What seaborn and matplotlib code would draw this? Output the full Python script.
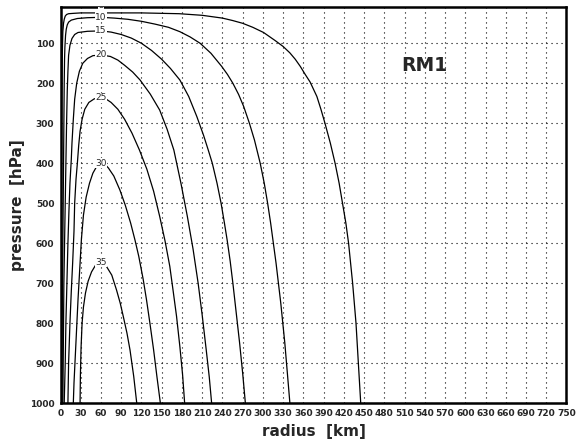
import pandas as pd
import seaborn as sns
import matplotlib.pyplot as plt

# contour levels and the (radius, pressure) points
levels = [5, 10, 15, 20, 25, 30, 35]

r5 = [0.8, 1.2, 1.6, 2, 2.5, 3, 3.5, 4.5, 5.5, 7, 9, 12, 20, 30, 60, 120, 176, 210, 240, 255, 270, 285, 301,
      318, 330, 340, 348, 355.5, 362, 370, 380, 386, 392, 400, 407, 413, 418, 423, 427, 433, 438, 441.5, 445]
p5 = [1000, 700, 400, 250, 150, 100, 70, 50, 40, 32, 28, 26, 25, 24, 24, 24, 26, 30, 37, 43, 50, 60, 73,
      93, 108, 124, 140, 158, 176, 197, 233, 265, 300, 350, 400, 450, 500, 550, 600, 700, 800, 900, 1000]

r10 = [2, 2.5, 3, 4, 4.5, 5, 5.5, 6, 6.5, 7.5, 8.5, 10, 12, 16, 25, 40, 60, 80, 100, 120, 140, 160, 177, 192,
       207, 223, 239, 247.5, 255.5, 264, 271.5, 280, 287.5, 296, 302, 307, 311.5, 315.5, 319.5, 323, 326.5, 329.5,
       332.5, 335, 337.5, 340]
p10 = [1000, 800, 700, 500, 400, 300, 200, 140, 110, 80, 65, 54, 47, 42, 38, 36, 35, 37, 40, 45, 52, 60, 71, 84,
       100, 125, 158, 178, 200, 228, 258, 300, 342, 400, 450, 500, 550, 600, 650, 700, 750, 800,
       850, 900, 950, 1000]

r15 = [3.5, 4.5, 5, 6, 7, 8, 9, 10, 11, 12, 14, 17, 21, 26, 40, 60, 75, 90, 105, 120, 135, 150, 163, 177, 190,
       202, 212, 219, 225, 232, 238, 243, 247, 251.5, 255.5, 260.5, 265.5, 270, 274]
p15 = [1000, 800, 700, 600, 500, 400, 300, 220, 170, 130, 105, 88, 78, 73, 70, 69, 72, 78, 87, 100, 118, 140, 163, 192, 233,
       283, 330, 367, 400, 450, 500, 550, 592, 645, 700, 775, 850, 925, 1000]

r20 = [5.5, 7, 8, 9.5, 11, 12.5, 14, 16, 17, 19, 21, 24, 28, 33, 40, 48, 60, 74, 85, 95, 107, 118, 133, 147,
       158, 168, 178.5, 188, 196.5, 204, 210, 216, 220.5, 224]
p20 = [1000, 900, 800, 700, 600, 520, 450, 390, 350, 290, 240, 200, 170, 150, 138, 131, 129, 133, 142, 155, 172, 192, 227, 267,
       315, 367, 450, 533, 615, 700, 780, 867, 935, 1000]

r25 = [11, 12, 14, 16, 18, 20, 21, 23, 25, 27, 29, 32, 36, 42, 50, 60, 68, 75, 85, 95, 106, 117, 128, 138,
       147, 155, 162, 167, 172, 177, 181, 184]
p25 = [1000, 900, 800, 720, 650, 570, 500, 440, 400, 355, 320, 290, 265, 248, 239, 236, 240, 248, 265, 290, 325, 367, 415, 470,
       533, 595, 658, 720, 783, 860, 930, 1000]

r30 = [19, 20, 22, 24, 26, 28.5, 31, 34, 38, 43, 48, 54, 60, 66, 71, 79, 88, 96, 104, 110.5, 116, 122.5, 127.5, 132.5,
       138, 143, 148]
p30 = [1000, 950, 880, 810, 740, 665, 590, 530, 485, 450, 425, 407, 400, 403, 412, 432, 467, 505, 550, 593, 633, 690, 742, 800,
       867, 935, 1000]

r35 = [29, 29.5, 30.5, 32, 34, 37, 41, 46, 52, 60, 68, 76, 83, 88.5, 93, 98.5, 103, 108.5, 113]
p35 = [1000, 930, 860, 800, 760, 725, 695, 672, 655, 648, 658, 680, 717, 750, 783, 825, 867, 933, 1000]

# where each contour label sits (radius, pressure)
label_r = [60, 60, 60, 60, 60, 60, 60]
label_p = [6, 35, 69, 129, 236, 400, 648]

x_ticks = list(range(0, 751, 30))
y_ticks = list(range(100, 1001, 100))

lines = [(r5, p5), (r10, p10), (r15, p15), (r20, p20), (r25, p25), (r30, p30), (r35, p35)]
frames = []
for lev, (rr, pp) in zip(levels, lines):
    frames.append(pd.DataFrame({'radius': rr, 'pressure': pp, 'level': lev}))
df = pd.concat(frames, ignore_index=True)

sns.set_style("white")
plt.rcParams['font.family'] = ['DejaVu Sans']

fig = plt.figure(figsize=(5.84, 4.46), dpi=100)
ax = fig.add_axes([0.1036, 0.0964, 0.8664, 0.8872])

sns.lineplot(data=df, x='radius', y='pressure', units='level', estimator=None,
             sort=False, color='black', linewidth=0.9, legend=False, ax=ax)
for ln in ax.lines:
    ln.set_solid_joinstyle('round')

# contour labels, white box breaks the line like the original
for lev, lr, lp in zip(levels, label_r, label_p):
    ax.text(lr, lp, str(lev), ha='center', va='center', fontsize=6.5, clip_on=True,
            bbox=dict(facecolor='white', edgecolor='none', pad=0.3), zorder=5)

ax.text(540, 155, 'RM1', ha='center', va='center', fontsize=13.5, fontweight='heavy')

ax.set_xlim(0, 750)
ax.set_ylim(1000, 10)
ax.set_xticks(x_ticks)
ax.set_yticks(y_ticks)
ax.set_xticklabels([str(t) for t in x_ticks], fontsize=6.5, fontweight='bold')
ax.set_yticklabels([str(t) for t in y_ticks], fontsize=6.5, fontweight='bold')
ax.tick_params(axis='both', direction='out', length=3, width=0.8, pad=1.5, color='black')

ax.grid(True, which='major', linestyle=(0, (1, 3.5)), color='black', linewidth=0.8)
ax.set_axisbelow(True)

for s in ax.spines.values():
    s.set_linewidth(1.8)
    s.set_color('black')

ax.set_xlabel('radius  [km]', fontsize=11, fontweight='bold', labelpad=4)
ax.set_ylabel('pressure  [hPa]', fontsize=11, fontweight='bold', labelpad=3)

plt.savefig('out.png', dpi=100)
